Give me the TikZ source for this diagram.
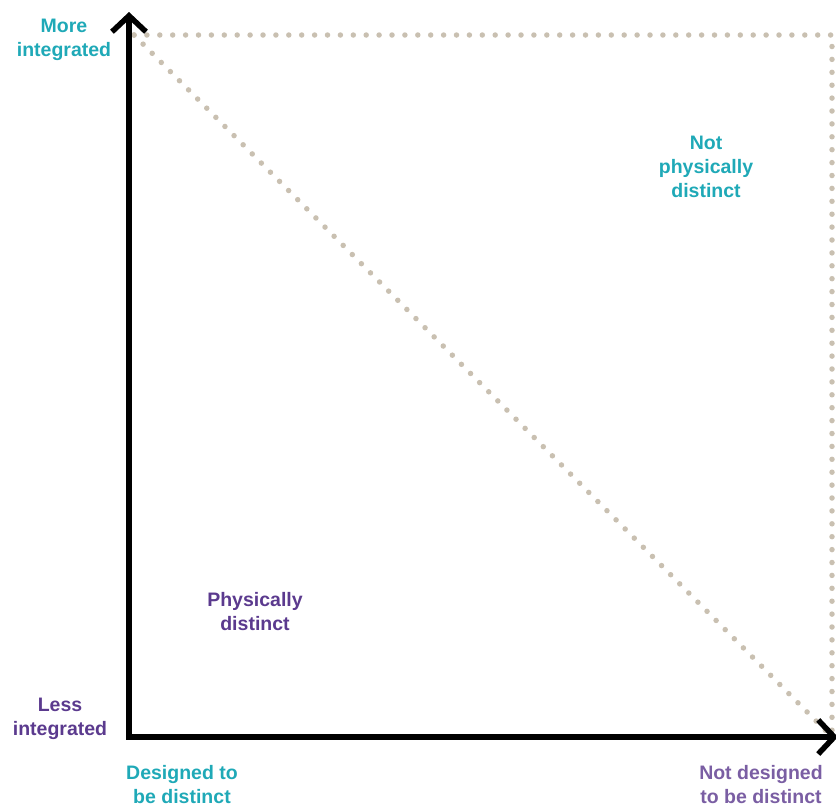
\documentclass[tikz,border=0pt]{standalone}
\usepackage{fontspec}
\setmainfont{Liberation Sans}
\usetikzlibrary{arrows.meta}
\definecolor{teal1}{HTML}{1FA9B7}
\definecolor{purp1}{HTML}{5B3A8E}
\definecolor{purp2}{HTML}{7A5EA3}
\definecolor{tan1}{HTML}{C9C0B1}
\begin{document}
\begin{tikzpicture}[x=1pt,y=-1pt,
  lbl/.style={font=\bfseries\fontsize{19.5}{24}\selectfont, align=center, inner sep=0pt},
  axis/.style={line width=5.5pt, line join=miter, {Straight Barb[length=16pt,width=34pt,line width=5.5pt]}-{Straight Barb[length=16pt,width=34pt,line width=5.5pt]}},
  dots/.style={tan1, line width=5.5pt, line cap=round, dash pattern=on 0pt off 12.9pt}]
\useasboundingbox (0,0) rectangle (836,804);
\coordinate (top) at (129,12);
\coordinate (origin) at (129,737);
\coordinate (right) at (838,737);
\coordinate (tl) at (134,35);
\coordinate (tr) at (832,35);
\coordinate (br) at (832,737);
\draw[dots] (tl) -- (tr) -- (br);
\draw[dots] (tl) -- (br);
\draw[axis] (top) -- (origin) -- (right);
\node[lbl, teal1] (more) at (64,40) {More\\integrated};
\node[lbl, purp1] (less) at (60,719) {Less\\integrated};
\node[lbl, teal1] (des) at (182,785) {Designed to\\be distinct};
\node[lbl, purp2] (notdes) at (761,785) {Not designed\\to be distinct};
\node[lbl, teal1] (notphys) at (706,167) {Not\\physically\\distinct};
\node[lbl, purp1] (phys) at (255,612) {Physically\\distinct};
\end{tikzpicture}
\end{document}
